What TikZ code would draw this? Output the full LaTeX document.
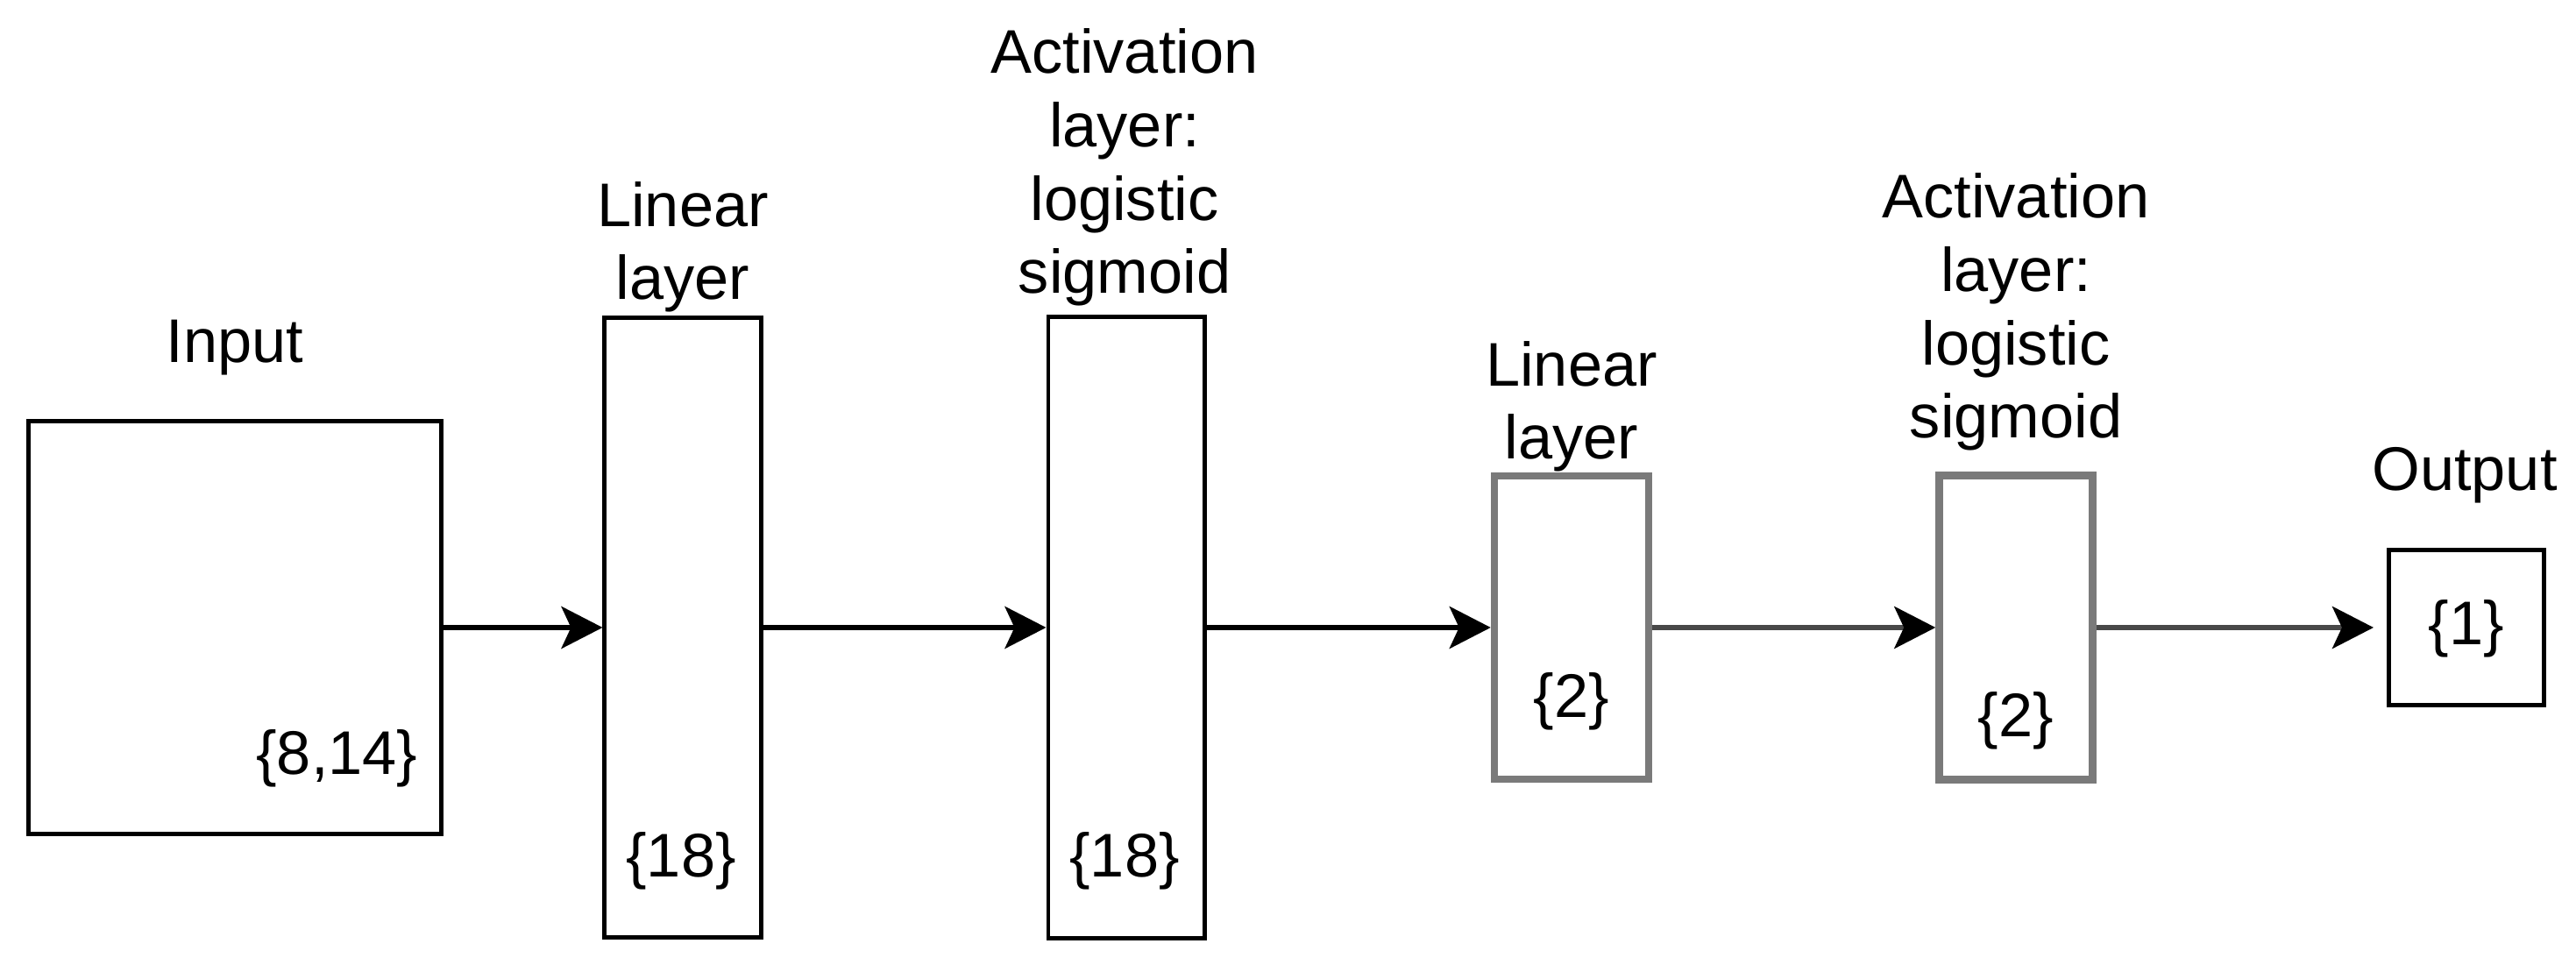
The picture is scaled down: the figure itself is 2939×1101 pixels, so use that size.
\documentclass[tikz,border=0pt]{standalone}
\usepackage{fontspec}
\setmainfont{Liberation Sans}
\usepackage{tikz}
\usetikzlibrary{arrows.meta}
\definecolor{boxgray}{RGB}{122,122,122}
\definecolor{linegray}{RGB}{72,72,72}
\begin{document}
\begin{tikzpicture}[line cap=butt,line join=miter,x=0.01cm,y=0.01cm,
  blk/.style={draw=black,line width=1.4pt,inner sep=0pt},
  gblk/.style={draw=boxgray,line width=2.4pt,inner sep=0pt},
  lbl/.style={inner sep=0pt,align=center,font=\fontsize{20}{23.8}\selectfont},
  dim/.style={inner sep=0pt,font=\fontsize{20}{23.8}\selectfont},
  arr/.style={line width=1.6pt,-{Stealth[length=0.47cm,width=0.48cm,inset=0.11cm]}},
  garr/.style={line width=1.6pt,draw=linegray,-{Stealth[length=0.47cm,width=0.48cm,inset=0.11cm,color=black]}}]
\useasboundingbox (0,0) rectangle (2939,1101);
\node[blk,minimum width=4.70cm,minimum height=4.70cm] (inp) at (268,385) {};
\node[blk,minimum width=1.78cm,minimum height=7.07cm] (lin1) at (779,385) {};
\node[blk,minimum width=1.78cm,minimum height=7.08cm] (act1) at (1285,385) {};
\node[gblk,minimum width=1.76cm,minimum height=3.46cm] (lin2) at (1793,385) {};
\node[gblk,minimum width=1.75cm,minimum height=3.47cm] (act2) at (2300,385) {};
\node[blk,minimum width=1.77cm,minimum height=1.77cm] (out) at (2814,385) {};
\node[lbl,anchor=base] (inplbl) at (268,687) {Input};
\node[lbl,anchor=base] (lin1lbl) at (779,759) {Linear\\layer};
\node[lbl,anchor=base] (act1lbl) at (1283,766) {Activation\\layer:\\logistic\\sigmoid};
\node[lbl,anchor=base] (lin2lbl) at (1793,577) {Linear\\layer};
\node[lbl,anchor=base] (act2lbl) at (2300,601) {Activation\\layer:\\logistic\\sigmoid};
\node[lbl,anchor=base] (outlbl) at (2812,541) {Output};
\node[dim,anchor=east] (inpdim) at (477,236) {\{8,14\}};
\node[dim] (lin1dim) at (777,119) {\{18\}};
\node[dim] (act1dim) at (1283,119) {\{18\}};
\node[dim] (lin2dim) at (1793,301) {\{2\}};
\node[dim] (act2dim) at (2300,279) {\{2\}};
\node[dim] (outdim) at (2814,384) {\{1\}};
\draw[arr] (inp.east) -- (lin1.west);
\draw[arr] (lin1.east) -- (act1.west);
\draw[arr] (act1.east) -- (lin2.west);
\draw[garr] (lin2.east) -- (act2.west);
\draw[garr,shorten >=0.15cm] (act2.east) -- (out.west);
\end{tikzpicture}
\end{document}
